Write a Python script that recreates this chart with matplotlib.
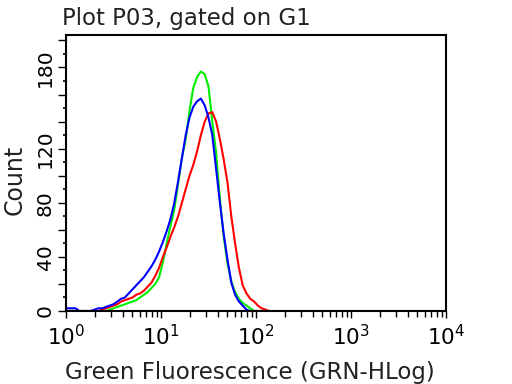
import numpy as np
import matplotlib
matplotlib.use("Agg")
import matplotlib.pyplot as plt
from matplotlib.ticker import FixedLocator, FuncFormatter, LogLocator, NullFormatter

# bin centres in decades (log10 of fluorescence), 0.04-decade channels
log_centers = np.round(np.arange(0.02, 2.15, 0.04), 2)

blue_counts = [2, 2, 2, 0, 0, 0, 0,
               1, 2, 2, 3, 4, 5, 7, 9, 10, 13, 16, 19, 22, 25, 29, 33, 38, 44,
               51, 59, 68, 80, 96, 113, 130, 143, 151, 155, 157, 152, 143, 130,
               105, 80, 57, 38, 21, 12, 7, 4, 1, 0, 0, 0, 0, 0, 0]
green_counts = [0, 0, 0, 0, 0, 0, 0,
                0, 0, 0, 0, 1, 2, 3, 4, 5, 6, 7, 8, 10, 12, 14, 17, 20, 25,
                36, 50, 63, 75, 94, 113, 127, 148, 165, 173, 177, 175, 166, 140,
                117, 83, 55, 35, 22, 14, 9, 6, 4, 2, 0, 0, 0, 0, 0]
red_counts = [0, 0, 0, 0, 0, 0, 0,
              0, 0, 1, 2, 3, 4, 5, 7, 8, 9, 10, 12, 13, 15, 18, 21, 26, 32,
              40, 47, 55, 62, 70, 80, 90, 100, 108, 118, 130, 140, 146, 147,
              140, 127, 112, 95, 70, 50, 32, 19, 13, 9, 7, 4, 2, 1, 0]

title = "Plot P03, gated on G1"
xlabel = "Green Fluorescence (GRN-HLog)"
ylabel = "Count"
y_major = list(range(0, 201, 20))
y_labelled = [0, 40, 80, 120, 180]

x_vals = 10 ** log_centers

fig = plt.figure(figsize=(5.12, 3.84), dpi=100)
ax = fig.add_axes([66 / 512, 1 - 311 / 384, 380 / 512, 276 / 384])

ax.plot(x_vals, green_counts, color="#00ee00", lw=1.5, zorder=2)
ax.plot(x_vals, blue_counts, color="#0000ff", lw=1.5, zorder=3)
ax.plot(x_vals, red_counts, color="#ff0000", lw=1.5, zorder=2)

ax.set_xscale("log")
ax.set_xlim(1, 1e4)
ax.set_ylim(0, 204)

ax.xaxis.set_major_locator(LogLocator(base=10, numticks=10))
ax.xaxis.set_minor_locator(LogLocator(base=10, subs=np.arange(2, 10), numticks=20))
ax.xaxis.set_minor_formatter(NullFormatter())
ax.xaxis.set_major_formatter(FuncFormatter(lambda v, p: r"$10^{%d}$" % round(np.log10(v))))

ax.yaxis.set_major_locator(FixedLocator(y_major))
ax.yaxis.set_minor_locator(FixedLocator([v + 10 for v in y_major[:-1]]))
ax.yaxis.set_major_formatter(FuncFormatter(lambda v, p: "%d" % v if round(v) in y_labelled else ""))

ax.tick_params(axis="x", which="major", direction="out", length=5, width=1, pad=4, labelsize=15.5)
ax.tick_params(axis="x", which="minor", direction="out", length=4, width=1)
ax.tick_params(axis="y", which="major", direction="out", length=6, width=1, pad=2, labelsize=14.5)
ax.tick_params(axis="y", which="minor", direction="out", length=2, width=1.2)
for lab in ax.get_yticklabels():
    lab.set_rotation(90)
    lab.set_va("center")

for s in ax.spines.values():
    s.set_linewidth(1.5)
    s.set_zorder(5)

fig.text(62 / 512, 1 - 18 / 384, title, fontsize=16.5, ha="left", va="center", color="#222222")
fig.text(250 / 512, 1 - 373 / 384, xlabel, fontsize=16.5, ha="center", va="center", color="#222222")
fig.text(15 / 512, 1 - 180 / 384, ylabel, fontsize=17, ha="center", va="center", rotation=90, color="#222222")

fig.savefig("out.png", dpi=100)
